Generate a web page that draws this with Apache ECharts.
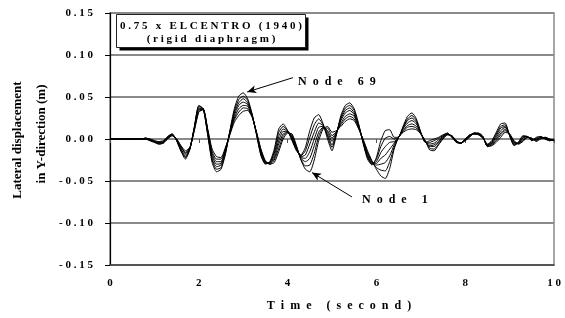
<!DOCTYPE html>
<html>
<head>
<meta charset="utf-8">
<script src="https://cdn.jsdelivr.net/npm/echarts@6/dist/echarts.min.js"></script>
<style>
  html, body { margin: 0; padding: 0; background: #fff; }
  #chart { width: 565px; height: 318px; }
</style>
</head>
<body>
<div id="chart"></div>
<script>
(() => {
  "use strict";

  // time (s)
  const times = [0, 0.7, 0.8, 0.9, 1.0, 1.1, 1.2, 1.3, 1.4, 1.5, 1.6, 1.7, 1.8, 1.9,
    2.0, 2.1, 2.2, 2.3, 2.4, 2.5, 2.6, 2.7, 2.8, 2.9, 3.0, 3.1, 3.2, 3.3, 3.4, 3.5,
    3.6, 3.7, 3.8, 3.9, 4.0, 4.1, 4.2, 4.3, 4.4, 4.5, 4.6, 4.7, 4.8, 4.9, 5.0, 5.1,
    5.2, 5.3, 5.4, 5.5, 5.6, 5.7, 5.8, 5.9, 6.0, 6.1, 6.2, 6.3, 6.4, 6.5, 6.6, 6.7,
    6.8, 6.9, 7.0, 7.1, 7.2, 7.3, 7.4, 7.5, 7.6, 7.7, 7.8, 7.9, 8.0, 8.1, 8.2, 8.3,
    8.4, 8.5, 8.6, 8.7, 8.8, 8.9, 9.0, 9.1, 9.2, 9.3, 9.4, 9.5, 9.6, 9.7, 9.8, 9.9, 10.0];

  // lateral displacement (m), node 69 ... node 1
  const node69 = [0, 0, .001, 0, -.002, -.003, -.002, .003, .006, -.002,
    -.015, -.024, -.012, .015, .040, .036, .005, -.028, -.039, -.036,
    -.018, .010, .036, .051, .055, .048, .030, .005, -.020, -.030,
    -.027, -.012, .012, .018, .010, -.002, -.014, -.019, -.010, .010,
    .025, .029, .018, 0, -.014, .005, .028, .040, .043, .036,
    .018, -.005, -.024, -.031, -.022, -.002, .010, .011, .002, .002,
    .015, .027, .031, .024, .008, -.004, -.002, 0, .002, .005,
    .007, .002, -.004, -.005, 0, .005, .006, .005, .001, -.006,
    -.002, .008, .018, .019, .004, -.008, -.004, .004, .003, -.002,
    .002, .003, 0, -.002, -.001];
  const trace2 = [0, 0, .001, 0, -.002, -.004, -.003, .003, .006, -.002,
    -.014, -.022, -.012, .014, .039, .036, .006, -.025, -.036, -.034,
    -.017, .009, .033, .047, .051, .046, .029, .006, -.019, -.029,
    -.028, -.015, .008, .015, .010, -.001, -.013, -.020, -.014, .002,
    .017, .024, .017, .003, -.010, .006, .026, .037, .040, .034,
    .017, -.004, -.022, -.030, -.024, -.009, .001, .003, 0, .002,
    .014, .024, .028, .022, .008, -.004, -.004, -.002, .001, .004,
    .007, .002, -.004, -.005, 0, .005, .006, .005, .001, -.007,
    -.003, .006, .015, .017, .004, -.007, -.004, .003, .003, -.002,
    .001, .003, 0, -.002, -.001];
  const trace3 = [0, 0, .001, -.001, -.003, -.004, -.003, .002, .005, -.001,
    -.013, -.021, -.011, .013, .037, .036, .007, -.023, -.033, -.031,
    -.015, .008, .031, .043, .048, .043, .029, .006, -.017, -.029,
    -.028, -.017, .003, .012, .009, .001, -.012, -.021, -.019, -.006,
    .008, .019, .016, .005, -.007, .007, .024, .034, .037, .031,
    .016, -.003, -.021, -.029, -.027, -.016, -.009, -.004, -.003, .002,
    .013, .022, .025, .020, .007, -.003, -.006, -.005, -.001, .003,
    .006, .003, -.003, -.005, -.001, .004, .006, .006, .002, -.007,
    -.004, .004, .013, .015, .005, -.006, -.005, .002, .003, -.001,
    0, .002, .001, -.001, -.001];
  const trace4 = [0, 0, 0, -.001, -.003, -.005, -.004, .002, .005, -.001,
    -.012, -.019, -.011, .013, .036, .036, .009, -.020, -.030, -.029,
    -.014, .008, .028, .040, .044, .041, .028, .007, -.016, -.028,
    -.029, -.020, -.002, .009, .009, .002, -.011, -.022, -.023, -.015,
    0, .014, .015, .008, -.003, .008, .022, .031, .034, .029,
    .015, -.003, -.019, -.029, -.029, -.023, -.019, -.012, -.005, .002,
    .012, .019, .022, .018, .007, -.003, -.008, -.007, -.003, .003,
    .006, .003, -.003, -.005, -.001, .004, .007, .006, .002, -.008,
    -.005, .002, .010, .014, .005, -.005, -.005, .001, .003, -.001,
    -.001, .002, .001, -.001, -.002];
  const trace5 = [0, 0, 0, -.001, -.003, -.005, -.004, .001, .005, -.001,
    -.010, -.017, -.011, .012, .035, .035, .010, -.017, -.027, -.027,
    -.013, .007, .025, .036, .040, .039, .027, .007, -.015, -.027,
    -.029, -.023, -.006, .006, .008, .003, -.010, -.023, -.027, -.023,
    -.008, .008, .014, .010, .001, .008, .019, .027, .030, .027,
    .014, -.002, -.017, -.028, -.031, -.030, -.028, -.020, -.007, .002,
    .010, .016, .018, .015, .007, -.003, -.009, -.009, -.004, .002,
    .006, .003, -.003, -.005, -.001, .003, .007, .006, .002, -.008,
    -.006, 0, .007, .012, .005, -.004, -.005, -.001, .002, 0,
    -.001, .001, .001, -.001, -.002];
  const trace6 = [0, 0, 0, -.002, -.004, -.006, -.005, .001, .004, 0,
    -.009, -.016, -.010, .011, .033, .035, .011, -.015, -.024, -.024,
    -.011, .006, .023, .032, .037, .036, .027, .008, -.013, -.027,
    -.030, -.025, -.011, .003, .008, .005, -.009, -.024, -.032, -.031,
    -.017, .003, .013, .013, .004, .009, .017, .024, .027, .024,
    .013, -.001, -.016, -.027, -.034, -.037, -.038, -.027, -.010, .002,
    .009, .014, .015, .013, .006, -.002, -.011, -.012, -.006, .001,
    .005, .004, -.002, -.005, -.002, .003, .007, .007, .003, -.009,
    -.007, -.002, .005, .010, .006, -.003, -.006, -.002, .002, .001,
    -.002, .001, .002, 0, -.002];
  const node1 = [0, 0, 0, -.002, -.004, -.006, -.005, 0, .004, 0,
    -.008, -.014, -.010, .010, .032, .035, .012, -.012, -.021, -.022,
    -.010, .005, .020, .028, .033, .034, .026, .008, -.012, -.026,
    -.030, -.028, -.015, 0, .007, .006, -.008, -.025, -.036, -.039,
    -.025, -.002, .012, .015, .008, .010, .015, .021, .024, .022,
    .012, 0, -.014, -.026, -.036, -.044, -.047, -.035, -.012, .002,
    .008, .011, .012, .011, .006, -.002, -.013, -.014, -.007, 0,
    .005, .004, -.002, -.005, -.002, .002, .007, .007, .003, -.009,
    -.008, -.004, .002, .008, .006, -.002, -.006, -.003, .002, .001,
    -.003, 0, .002, 0, -.002];

  const traces = [
    ["Node 69", node69], ["Node 57", trace2], ["Node 46", trace3], ["Node 35", trace4],
    ["Node 24", trace5], ["Node 12", trace6], ["Node 1", node1],
  ];

  // arrow [tail, tip] in data units
  const arrow69 = [[4.12, 0.073], [3.09, 0.056]];
  const arrow1 = [[5.45, -0.069], [4.55, -0.040]];

  const serif = '"Liberation Serif", "Times New Roman", serif';
  const spaced = (text, gap = " ") => String(text).split("").join(gap);

  const chart = echarts.init(document.getElementById("chart"), null, { renderer: "canvas" });

  const series = traces.map(([name, values], i) => ({
    name,
    type: "line",
    showSymbol: false,
    smooth: 0.2,
    silent: true,
    lineStyle: { color: "#000", width: 1 },
    data: values.map((v, j) => [times[j], v]),
    markLine: i === 0 ? {
      silent: true,
      symbol: ["none", "arrow"],
      symbolSize: [6, 9],
      label: { show: false },
      lineStyle: { color: "#000", width: 1, type: "solid" },
      data: [
        [{ coord: arrow69[0] }, { coord: arrow69[1] }],
        [{ coord: arrow1[0] }, { coord: arrow1[1] }],
      ],
    } : undefined,
  }));

  const labelFont = { fontFamily: serif, fontWeight: "bold", fontSize: 11, color: "#000" };

  chart.setOption({
    animation: false,
    backgroundColor: "#fff",
    grid: {
      left: 110, right: 11, top: 13, bottom: 53,
      show: true, borderColor: "#8a8a8a", borderWidth: 1.5,
    },
    xAxis: [
      {
        type: "value", min: 0, max: 10, interval: 2,
        axisLine: { show: true, onZero: false, lineStyle: { color: "#444", width: 1.5 } },
        axisTick: { show: false },
        axisLabel: { ...labelFont, margin: 13, formatter: (v) => spaced(v) },
        splitLine: { show: false },
      },
      {
        type: "value", min: 0, max: 10, interval: 2, position: "bottom",
        axisLine: { show: true, onZero: true, lineStyle: { color: "#8a8a8a", width: 2 } },
        axisTick: { show: true, length: 4, lineStyle: { color: "#555", width: 1 } },
        axisLabel: { show: false },
        splitLine: { show: false },
      },
    ],
    yAxis: {
      type: "value", min: -0.15, max: 0.15, interval: 0.05,
      axisLine: { show: true, lineStyle: { color: "#000", width: 1.2 } },
      axisTick: { show: true, length: 5, lineStyle: { color: "#000" } },
      axisLabel: { ...labelFont, margin: 17, formatter: (v) => spaced(v.toFixed(2)) },
      splitLine: { show: true, lineStyle: { color: "#8a8a8a", width: 2 } },
    },
    series,
    graphic: [
      {
        type: "text", x: 18, y: 140, rotation: Math.PI / 2,
        style: { text: "Lateral displacement", font: `bold 13px ${serif}`, fill: "#000",
          textAlign: "center", textVerticalAlign: "middle" },
      },
      {
        type: "text", x: 42, y: 134, rotation: Math.PI / 2,
        style: { text: "in Y-direction (m)", font: `bold 13px ${serif}`, fill: "#000",
          textAlign: "center", textVerticalAlign: "middle" },
      },
      {
        type: "text", x: 339, y: 306,
        style: { text: spaced("Time (second)", "  "), font: `bold 12px ${serif}`, fill: "#000",
          textAlign: "center", textVerticalAlign: "middle" },
      },
      // legend box with drop shadow
      {
        type: "rect", z: 10,
        shape: { x: 119.5, y: 17.5, width: 189, height: 33 },
        style: { fill: "#000" },
      },
      {
        type: "rect", z: 11,
        shape: { x: 116.5, y: 14.5, width: 189, height: 33 },
        style: { fill: "#fff", stroke: "#222", lineWidth: 1 },
      },
      {
        type: "text", z: 12, x: 211, y: 26,
        style: { text: spaced("0.75 x ELCENTRO (1940)"), font: `bold 11px ${serif}`, fill: "#000",
          textAlign: "center", textVerticalAlign: "middle" },
      },
      {
        type: "text", z: 12, x: 211, y: 39,
        style: { text: spaced("(rigid diaphragm)"), font: `bold 11px ${serif}`, fill: "#000",
          textAlign: "center", textVerticalAlign: "middle" },
      },
      {
        type: "text", z: 12, x: 298, y: 82,
        style: { text: spaced("Node 69", "  "), font: `bold 12px ${serif}`, fill: "#000",
          textAlign: "left", textVerticalAlign: "middle" },
      },
      {
        type: "text", z: 12, x: 362, y: 200,
        style: { text: spaced("Node 1", "  "), font: `bold 12px ${serif}`, fill: "#000",
          textAlign: "left", textVerticalAlign: "middle" },
      },
    ],
  });
})();
</script>
</body>
</html>
